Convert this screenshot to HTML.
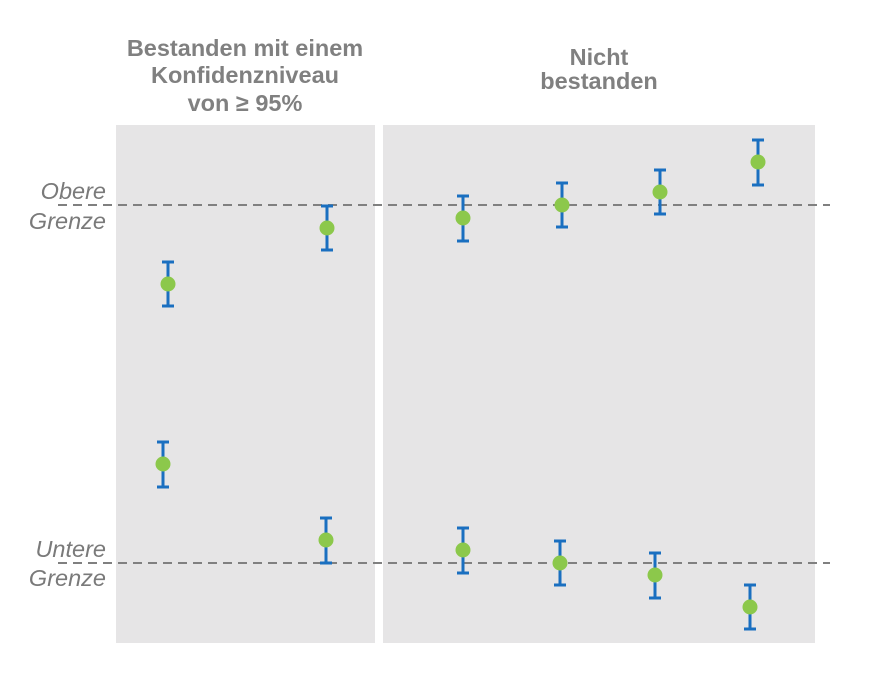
<!DOCTYPE html>
<html><head><style>body{margin:0;background:#fff}</style></head><body>
<svg width="870" height="693" xmlns="http://www.w3.org/2000/svg" font-family="Liberation Sans, Arial, sans-serif">
<rect x="116" y="125" width="259" height="518" fill="#e6e5e6"/>
<rect x="383" y="125" width="432" height="518" fill="#e6e5e6"/>
<g fill="#808080" font-weight="bold" font-size="23.5" text-anchor="middle">
<text x="245" y="56">Bestanden mit einem</text>
<text x="245" y="83">Konfidenzniveau</text>
<text x="245" y="111">von ≥ 95%</text>
<text x="599" y="65">Nicht</text>
<text x="599" y="89">bestanden</text>
</g>
<g fill="#7a7a7a" font-style="italic" font-size="23.5" text-anchor="end">
<text x="106" y="199">Obere</text>
<text x="106" y="229">Grenze</text>
<text x="106" y="557">Untere</text>
<text x="106" y="586">Grenze</text>
</g>
<g stroke="#808080" stroke-width="2" stroke-dasharray="9,6">
<line x1="58" y1="205" x2="830" y2="205"/>
<line x1="58" y1="563" x2="830" y2="563"/>
</g>
<g stroke="#1a6fc0" stroke-width="3" fill="none">
<path d="M168 262V306M162 262H174M162 306H174"/>
<path d="M327 206V250M321 206H333M321 250H333"/>
<path d="M163 442V487M157 442H169M157 487H169"/>
<path d="M326 518V563M320 518H332M320 563H332"/>
<path d="M463 196V241M457 196H469M457 241H469"/>
<path d="M562 183V227M556 183H568M556 227H568"/>
<path d="M660 170V214M654 170H666M654 214H666"/>
<path d="M758 140V185M752 140H764M752 185H764"/>
<path d="M463 528V573M457 528H469M457 573H469"/>
<path d="M560 541V585M554 541H566M554 585H566"/>
<path d="M655 553V598M649 553H661M649 598H661"/>
<path d="M750 585V629M744 585H756M744 629H756"/>
</g>
<g fill="#8cc84b">
<circle cx="168" cy="284" r="7.5"/><circle cx="327" cy="228" r="7.5"/>
<circle cx="163" cy="464" r="7.5"/><circle cx="326" cy="540" r="7.5"/>
<circle cx="463" cy="218" r="7.5"/><circle cx="562" cy="205" r="7.5"/>
<circle cx="660" cy="192" r="7.5"/><circle cx="758" cy="162" r="7.5"/>
<circle cx="463" cy="550" r="7.5"/><circle cx="560" cy="563" r="7.5"/>
<circle cx="655" cy="575" r="7.5"/><circle cx="750" cy="607" r="7.5"/>
</g>
</svg>
</body></html>
